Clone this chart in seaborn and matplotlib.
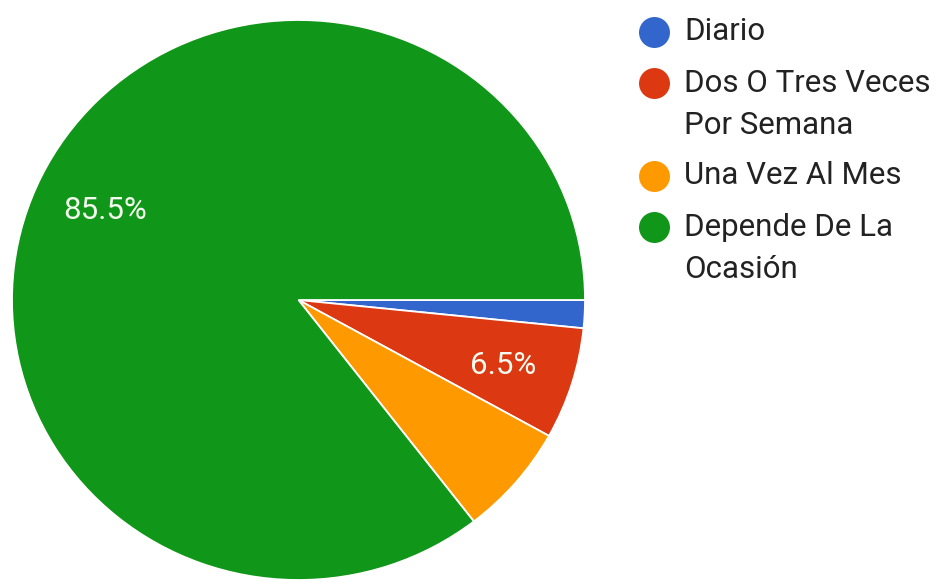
import matplotlib
matplotlib.use("Agg")
import matplotlib.pyplot as plt
import seaborn as sns
import numpy as np

# ---- data ----
categories = ["Diario", "Dos O Tres Veces\nPor Semana", "Una Vez Al Mes", "Depende De La\nOcasión"]
counts = [1, 4, 4, 53]
colors = ["#3366cc", "#dc3912", "#ff9900", "#109618"]
show_pct = [False, True, False, True]

sns.set_theme(style="white")
plt.rcParams["font.family"] = ["Roboto", "DejaVu Sans"]

W, H = 941, 582
fig = plt.figure(figsize=(W / 100, H / 100), dpi=100)
fig.patch.set_facecolor("white")

# pie axes (slightly elliptical like the screenshot)
ax = fig.add_axes([12 / W, 2 / H, 573 / W, 560 / H])
wedges, _ = ax.pie(counts, colors=colors, startangle=0, counterclock=False,
                   radius=1, wedgeprops=dict(edgecolor="white", linewidth=1.3))
ax.set_aspect("auto")
ax.set_xlim(-1, 1)
ax.set_ylim(-1, 1)
ax.axis("off")

total = sum(counts)
for w, c, s in zip(wedges, counts, show_pct):
    if not s:
        continue
    ang = np.deg2rad((w.theta1 + w.theta2) / 2)
    r = 0.75
    ax.text(r * np.cos(ang), r * np.sin(ang), f"{100 * c / total:.1f}%",
            ha="center", va="center_baseline", color="#f4fbef", fontsize=22.5)

# legend drawn on an overlay axes in pixel coordinates
lax = fig.add_axes([0, 0, 1, 1])
lax.set_xlim(0, W)
lax.set_ylim(H, 0)
lax.axis("off")
y = 32
line_gap = 42
entry_gap = 51
for lab, col in zip(categories, colors):
    lines = lab.split("\n")
    lax.scatter([654], [y - 0.5], s=22.3 ** 2, color=col, linewidths=0, zorder=3)
    for k, ln in enumerate(lines):
        lax.text(684, y + k * line_gap, ln, ha="left", va="center",
                 fontsize=22.5, color="#222222")
    y += (len(lines) - 1) * line_gap + entry_gap

fig.savefig("out.png", dpi=100, facecolor="white")
